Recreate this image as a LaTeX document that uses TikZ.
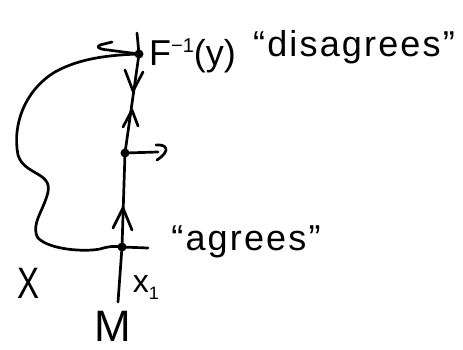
\documentclass[tikz,border=0pt]{standalone}
\usepackage{fontspec}
\setmainfont{Liberation Sans}
\begin{document}
\begin{tikzpicture}[x=1pt,y=-1pt,
  ink/.style={line width=2.7pt,line cap=round,line join=round},
  dot/.style={circle,fill=black,inner sep=0pt,minimum size=9pt},
  hand/.style={font=\fontsize{36}{38}\selectfont\addfontfeature{LetterSpace=6},inner sep=0pt},
  handF/.style={font=\fontsize{36}{38}\selectfont,inner sep=0pt},
  handbig/.style={font=\fontsize{44}{46}\selectfont,inner sep=0pt},
  handsmall/.style={font=\fontsize{32}{34}\selectfont,inner sep=0pt}]
\useasboundingbox (0,0) rectangle (463,350);
% points on M
\coordinate (mtop) at (137,33);
\node[dot] (ptop) at (139,54) {};
\node[dot] (pmid) at (125,153) {};
\node[dot] (pbot) at (122,247) {};
\coordinate (mbot) at (118,302);
% the line M
\draw[ink] (mtop) -- (ptop.center) -- (pmid.center) -- (pbot.center) -- (mbot);
% arrows along M
\draw[ink] (125,70) -- (133,91) -- (143,72);
\draw[ink] (123,127) -- (132,110) -- (138,126);
\draw[ink] (113,228) -- (123,208) -- (132,230);
% curve X
\draw[ink] (ptop.center) .. controls (110,55) and (80,58) .. (55,72)
  .. controls (25,90) and (12,125) .. (18,155)
  .. controls (24,175) and (52,172) .. (48,192)
  .. controls (44,210) and (30,225) .. (38,238)
  .. controls (50,250) and (85,252) .. (100,249)
  .. controls (110,246) and (115,246) .. (pbot.center);
% hook at top point
\draw[ink] (ptop.center) -- (108,50) .. controls (98,49) and (96,47) .. (100,45) -- (112,42);
% hook at middle point
\draw[ink] (pmid.center) -- (158,152);
\draw[ink] (156,145) .. controls (166,144) and (172,150) .. (157,160);
% tangent at bottom point
\draw[ink] (pbot.center) -- (148,248);
% labels
\node[handF,anchor=west] (lF) at (149,56) {F\raisebox{13pt}{\fontsize{20}{20}\selectfont −1}(y)};
\node[hand] (ldis) at (354,47) {“disagrees”};
\node[hand] (lag) at (246,242) {“agrees”};
\node[handbig] (lX) at (29,283) {\scalebox{0.75}[1]{X}};
\node[handsmall] (lX1) at (146,288) {x\raisebox{-7pt}{\fontsize{18}{18}\selectfont 1}};
\node[handbig] (lM) at (113,326) {M};
\end{tikzpicture}
\end{document}
